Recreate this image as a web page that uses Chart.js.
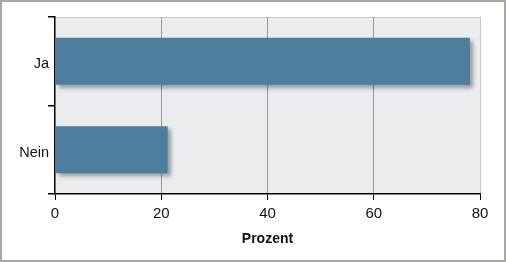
<!DOCTYPE html>
<html>
<head>
<meta charset="utf-8">
<script src="https://cdn.jsdelivr.net/npm/chart.js@4"></script>
<style>
html,body{margin:0;padding:0;background:#fff;}
#wrap{width:506px;height:262px;position:relative;}
</style>
</head>
<body>
<div id="wrap"><canvas id="c" width="506" height="262"></canvas></div>
<script>
const categories = ['Ja', 'Nein'];
const values = [78.1, 21.2];
const xTicks = [0, 20, 40, 60, 80];
const xTitle = 'Prozent';

const frame = {
  id: 'frame',
  beforeDraw(chart) {
    const {ctx, chartArea: a} = chart;
    ctx.save();
    ctx.fillStyle = '#fff';
    ctx.fillRect(0, 0, chart.width, chart.height);
    ctx.fillStyle = '#ebeced';
    ctx.fillRect(a.left, a.top, a.right - a.left, a.bottom - a.top);
    ctx.strokeStyle = '#c8c8c8';
    ctx.lineWidth = 1;
    ctx.beginPath();
    ctx.moveTo(a.left, a.top + 0.5);
    ctx.lineTo(a.right, a.top + 0.5);
    ctx.stroke();
    ctx.restore();
  },
  afterDraw(chart) {
    const ctx = chart.ctx;
    ctx.save();
    ctx.strokeStyle = '#a9aaa3';
    ctx.lineWidth = 2;
    ctx.strokeRect(1, 1, chart.width - 2, chart.height - 2);
    ctx.restore();
  },
  beforeDatasetsDraw(chart) {
    const ctx = chart.ctx;
    ctx.save();
    ctx.shadowColor = 'rgba(0,0,0,0.35)';
    ctx.shadowBlur = 4;
    ctx.shadowOffsetX = 3;
    ctx.shadowOffsetY = 3;
  },
  afterDatasetsDraw(chart) {
    chart.ctx.restore();
  }
};

new Chart(document.getElementById('c'), {
  type: 'bar',
  data: {
    labels: categories,
    datasets: [{
      data: values,
      backgroundColor: '#4d7e9d',
      borderWidth: 0,
      categoryPercentage: 0.53,
      barPercentage: 1.0
    }]
  },
  options: {
    indexAxis: 'y',
    responsive: false,
    animation: false,
    events: [],
    layout: {padding: {left: 0, right: 26, top: 17, bottom: 0}},
    plugins: {legend: {display: false}, tooltip: {enabled: false}},
    scales: {
      x: {
        min: 0, max: 80,
        afterBuildTicks(scale) { scale.ticks = xTicks.map(v => ({value: v})); },
        afterFit(scale) { scale.height = 68; },
        grid: {
          color: ctx => (ctx.tick && ctx.tick.value === 0) ? 'rgba(0,0,0,0)' : (ctx.tick && ctx.tick.value === 80 ? '#c8c8c8' : '#999'),
          tickColor: '#000',
          tickLength: 6,
          lineWidth: 1
        },
        border: {color: '#000', width: 1.5},
        ticks: {color: '#111', font: {family: 'Liberation Sans, Arial, sans-serif', size: 15}, padding: 5},
        title: {display: true, text: xTitle, color: '#111', font: {family: 'Liberation Sans, Arial, sans-serif', size: 14, weight: 'bold'}, padding: {top: 4, bottom: 14}}
      },
      y: {
        afterFit(scale) { scale.width = 55; },
        grid: {offset: true, drawOnChartArea: false, tickColor: '#000', tickLength: 7, lineWidth: 1.5},
        border: {color: '#000', width: 1.5},
        ticks: {color: '#111', font: {family: 'Liberation Sans, Arial, sans-serif', size: 14.5}, padding: -1, labelOffset: 3}
      }
    }
  },
  plugins: [frame]
});
</script>
</body>
</html>
